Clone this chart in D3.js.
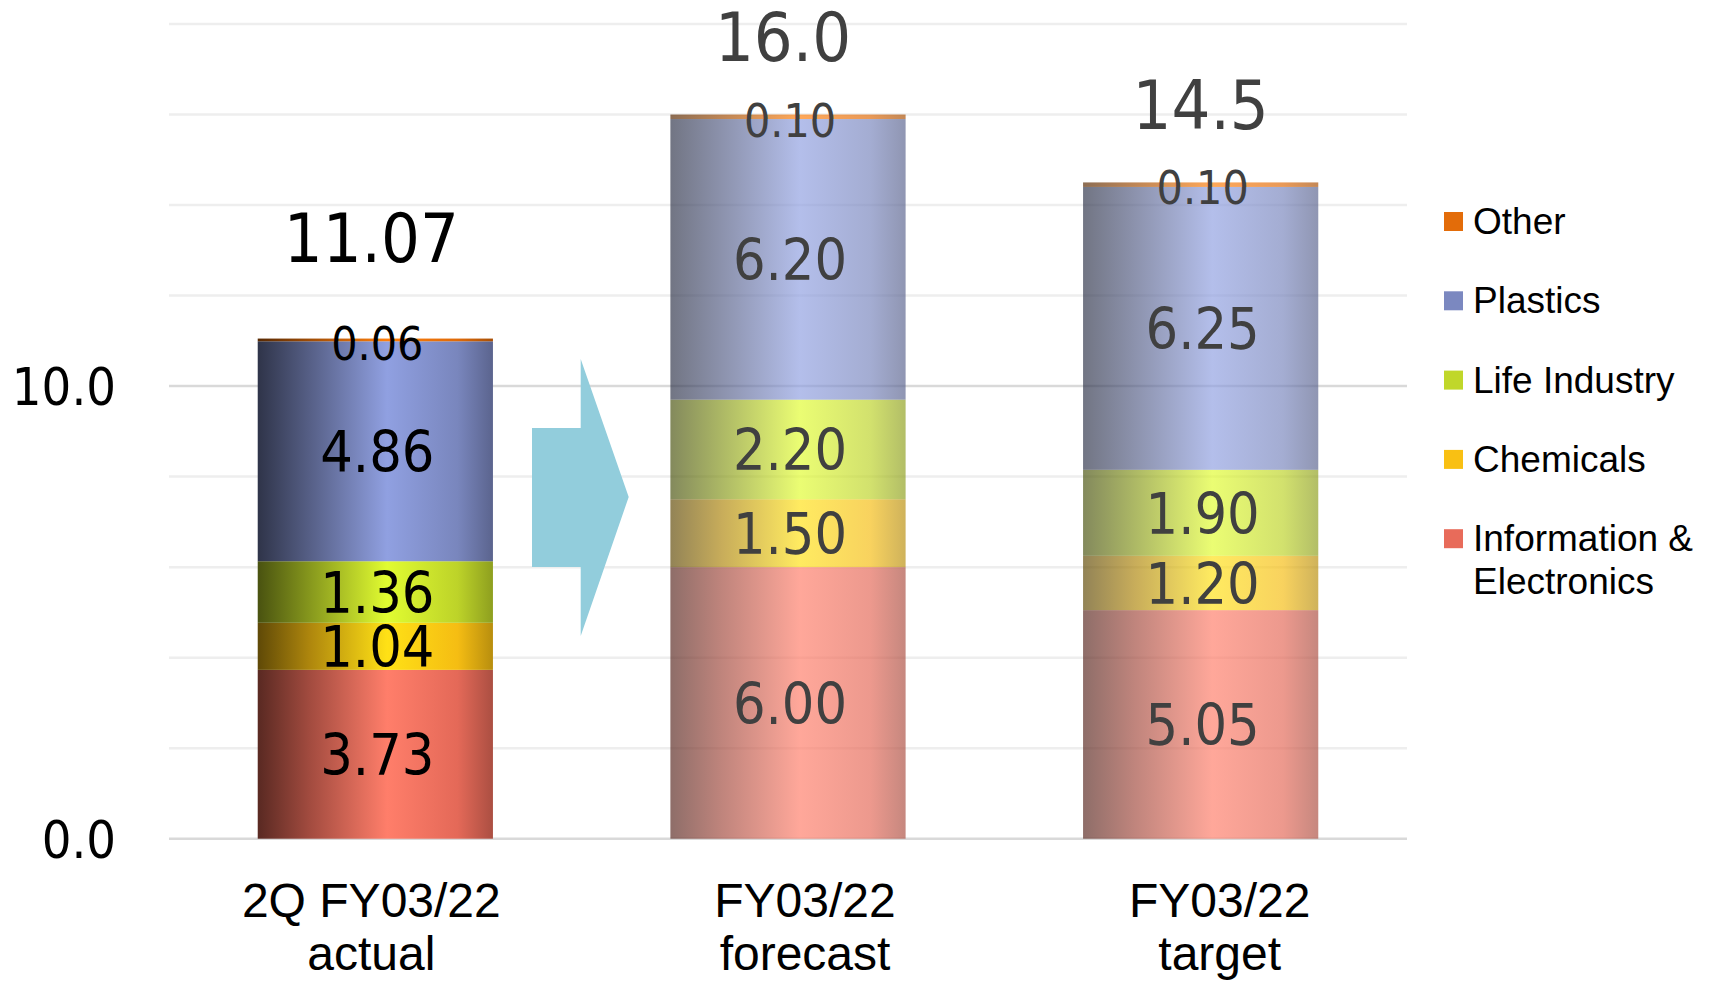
<!DOCTYPE html>
<html>
<head>
<meta charset="utf-8">
<script src="https://cdn.jsdelivr.net/npm/d3@7/dist/d3.min.js"></script>
<style>
  html, body { margin: 0; padding: 0; background: #ffffff; }
  svg { display: block; }
</style>
</head>
<body>
<svg id="chart" width="1710" height="982"></svg>
<script>
// ---- data ----
const categories = ["2Q FY03/22\nactual", "FY03/22\nforecast", "FY03/22\ntarget"];
const seriesNames = ["Information & Electronics", "Chemicals", "Life Industry", "Plastics", "Other"];
const infoElectronics = [3.73, 6.00, 5.05];
const chemicals = [1.04, 1.50, 1.20];
const lifeIndustry = [1.36, 2.20, 1.90];
const plastics = [4.86, 6.20, 6.25];
const other = [0.06, 0.10, 0.10];
const totalLabels = ["11.07", "16.0", "14.5"];
const yTickValues = [0, 10];
const gridValues = [0, 2, 4, 6, 8, 10, 12, 14, 16, 18];
const legendOrder = ["Other", "Plastics", "Life Industry", "Chemicals", "Information & Electronics"];
const legendLines = {
  "Other": ["Other"], "Plastics": ["Plastics"], "Life Industry": ["Life Industry"],
  "Chemicals": ["Chemicals"], "Information & Electronics": ["Information &", "Electronics"]
};

// ---- styles / layout ----
const colors = {
  "Information & Electronics": "#E86B5A",
  "Chemicals": "#F9C013",
  "Life Industry": "#C0D72A",
  "Plastics": "#7B88C0",
  "Other": "#E36C09"
};
const numFont = "'DejaVu Sans Condensed', 'DejaVu Sans', sans-serif";
const txtFont = "'Liberation Sans', Arial, sans-serif";
const totalLift = [77, 54, 53];
const totalShift = [-4, -5, 0];
const catShift = [-4, 17, 19];

const seriesData = [infoElectronics, chemicals, lifeIndustry, plastics, other];
const rows = categories.map((c, i) => {
  const r = { cat: c };
  seriesNames.forEach((s, k) => r[s] = seriesData[k][i]);
  return r;
});
const stacked = d3.stack().keys(seriesNames)(rows);

const svg = d3.select("#chart");
const x = d3.scaleBand().domain(categories).range([169, 1407]).paddingInner(0.43).paddingOuter(0.215);
const y = d3.scaleLinear().domain([0, 18]).range([838.7, 24]);

// gradients
const defs = svg.append("defs");
seriesNames.forEach((s, k) => {
  const base = d3.rgb(colors[s]);
  const g = defs.append("linearGradient").attr("id", "grad" + k)
    .attr("x1", "0%").attr("x2", "100%").attr("y1", "0%").attr("y2", "0%");
  const stops = [
    [0, base.darker(2.7)],
    [0.22, base.darker(1.0)],
    [0.55, base.brighter(0.45)],
    [0.85, base.darker(0.05)],
    [1, base.darker(0.85)]
  ];
  stops.forEach(([o, c]) => g.append("stop").attr("offset", o).attr("stop-color", c.formatHex()));
});

// grid
svg.append("g").selectAll("line").data(gridValues).join("line")
  .attr("x1", 169).attr("x2", 1407)
  .attr("y1", d => y(d)).attr("y2", d => y(d))
  .attr("stroke", d => (d === 0 || d === 10) ? "#d9d9d9" : "#eeeeee")
  .attr("stroke-width", 2.5);

// y axis labels
const yAxis = svg.append("g").attr("transform", "translate(169,0)")
  .call(d3.axisLeft(y).tickValues(yTickValues).tickSize(0).tickPadding(53).tickFormat(d3.format(".1f")));
yAxis.select(".domain").remove();
yAxis.selectAll("text").attr("font-family", numFont).attr("font-size", 52).attr("fill", "#000")
  .attr("dy", "0.36em");

// arrow (decoration)
svg.append("polygon")
  .attr("points", "532,428 580.7,428 580.7,359 628.7,497 580.7,636 580.7,567 532,567")
  .attr("fill", "#92CDDC");

// bars
const layers = svg.append("g").selectAll("g.layer").data(stacked).join("g").attr("class", "layer");
layers.each(function(layer, k) {
  d3.select(this).selectAll("rect").data(layer).join("rect")
    .attr("x", d => x(d.data.cat))
    .attr("width", x.bandwidth())
    .attr("y", d => y(d[1]))
    .attr("height", d => y(d[0]) - y(d[1]))
    .attr("fill", "url(#grad" + k + ")")
    .attr("opacity", (d, i) => i === 0 ? 1 : 0.68);
});

// segment labels
layers.each(function(layer, k) {
  const isSmall = seriesNames[k] === "Other";
  const fs = isSmall ? 46 : 57;
  d3.select(this).selectAll("text").data(layer).join("text")
    .attr("x", d => x(d.data.cat) + x.bandwidth() / 2 + 2)
    .attr("y", d => y((d[0] + d[1]) / 2) + fs * 0.729 / 2 + (isSmall ? 3 : 0))
    .attr("text-anchor", "middle")
    .attr("font-family", numFont).attr("font-stretch", "condensed")
    .attr("font-size", fs)
    .attr("fill", (d, i) => i === 0 ? "#000000" : "#404040")
    .text(d => d3.format(".2f")(d[1] - d[0]));
});

// totals
svg.append("g").selectAll("text").data(rows).join("text")
  .attr("x", (d, i) => x(d.cat) + x.bandwidth() / 2 + totalShift[i])
  .attr("y", (d, i) => y(d3.sum(seriesNames, s => d[s])) - totalLift[i])
  .attr("text-anchor", "middle")
  .attr("font-family", numFont).attr("font-stretch", "condensed")
  .attr("font-size", 68)
  .attr("fill", (d, i) => i === 0 ? "#000000" : "#404040")
  .text((d, i) => totalLabels[i]);

// category labels
const xAxis = svg.append("g").attr("transform", "translate(0,839)")
  .call(d3.axisBottom(x).tickSize(0).tickFormat(""));
xAxis.select(".domain").remove();
xAxis.selectAll(".tick").each(function(d, i) {
  const t = d3.select(this).append("text")
    .attr("text-anchor", "middle")
    .attr("font-family", txtFont).attr("font-size", 48).attr("fill", "#000");
  d.split("\n").forEach((line, j) => {
    t.append("tspan").attr("x", catShift[i]).attr("y", 78 + j * 53).text(line);
  });
});

// legend
const lg = svg.append("g").attr("transform", "translate(1444,0)");
legendOrder.forEach((s, i) => {
  const cy = 221.5 + i * 79.3;
  lg.append("rect").attr("x", 0).attr("y", cy - 9.5).attr("width", 19).attr("height", 19)
    .attr("fill", colors[s]);
  const t = lg.append("text").attr("font-family", txtFont).attr("font-size", 37).attr("fill", "#000");
  legendLines[s].forEach((line, j) => {
    t.append("tspan").attr("x", 29).attr("y", cy + 12.5 + j * 43).text(line);
  });
});
</script>
</body>
</html>
